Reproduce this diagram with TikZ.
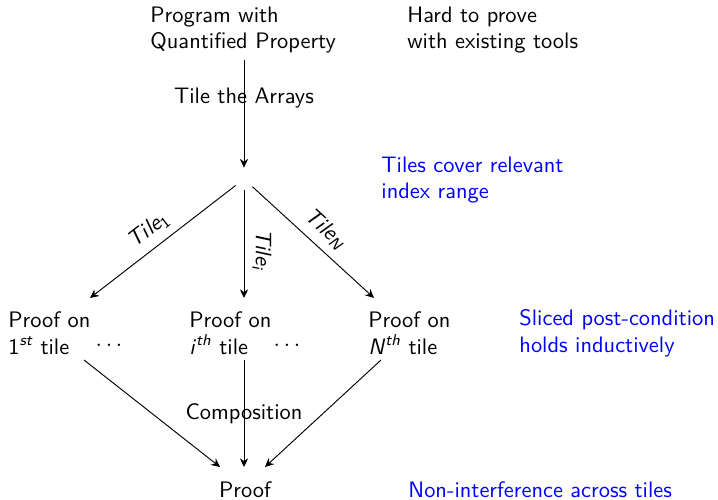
\documentclass[tikz,border=0pt]{standalone}
\usetikzlibrary{arrows.meta}
\begin{document}
\begin{tikzpicture}[x=0.48pt,y=-0.48pt,
    every node/.style={font=\fontsize{10.75}{12.9}\selectfont\sffamily, inner sep=0pt},
    txt/.style={anchor=west, align=left},
    note/.style={txt, text=blue},
    edge/.style={-{Stealth[length=4.2pt, width=4pt, inset=1.4pt]}, line width=0.45pt},
    lbl/.style={font=\fontsize{10.75}{12.9}\selectfont\sffamily\itshape}]
  \useasboundingbox (0,0) rectangle (718,500);

  % top row
  \node[txt] (prog) at (150,30) {Program with\\Quantified Property};
  \node[txt] (hard) at (407,30) {Hard to prove\\with existing tools};

  % split point
  \node[minimum width=16*0.48pt, minimum height=22*0.48pt] (split) at (244,179) {};
  \node[note] (cover) at (381,180) {Tiles cover relevant\\index range};

  % per-tile proofs
  \node[txt] (p1) at (8,333) {Proof on\\1\textsuperscript{\itshape st} tile};
  \node[anchor=base] (d1) at (109,346) {$\dots$};
  \node[txt] (pi) at (189,333) {Proof on\\\textit{i}\textsuperscript{\itshape th} tile};
  \node[anchor=base] (d2) at (287,346) {$\dots$};
  \node[txt] (pn) at (368,333) {Proof on\\\textit{N}\textsuperscript{\itshape th} tile};
  \node[note] (sliced) at (519,333) {Sliced post-condition\\holds inductively};

  % final proof
  \node (proof) at (245,490) {Proof};
  \node[note] (nonint) at (408,490) {Non-interference across tiles};

  % connector end points
  \coordinate (progout) at (244,60);
  \coordinate (p1in) at (90,298);
  \coordinate (piin) at (244,298);
  \coordinate (pnin) at (374,298);
  \coordinate (p1out) at (84,360);
  \coordinate (piout) at (244,360);
  \coordinate (pnout) at (381,360);
  \coordinate (proofinl) at (220,467);
  \coordinate (proofinm) at (244,467);
  \coordinate (proofinr) at (265,467);

  % connectors
  \draw[edge] (progout) -- node[pos=0.35] {Tile the Arrays} (split);
  \draw[edge] (split) -- node[lbl, sloped, above=8*0.48pt, pos=0.52] {Tile\textsubscript{\upshape 1}} (p1in);
  \draw[edge] (split) -- node[lbl, sloped, above=8*0.48pt, pos=0.55] {Tile\textsubscript{i}} (piin);
  \draw[edge] (split) -- node[lbl, sloped, above=8*0.48pt, pos=0.5] {Tile\textsubscript{N}} (pnin);
  \draw[edge] (p1out) -- (proofinl);
  \draw[edge] (piout) -- node[pos=0.5] {Composition} (proofinm);
  \draw[edge] (pnout) -- (proofinr);
\end{tikzpicture}
\end{document}
